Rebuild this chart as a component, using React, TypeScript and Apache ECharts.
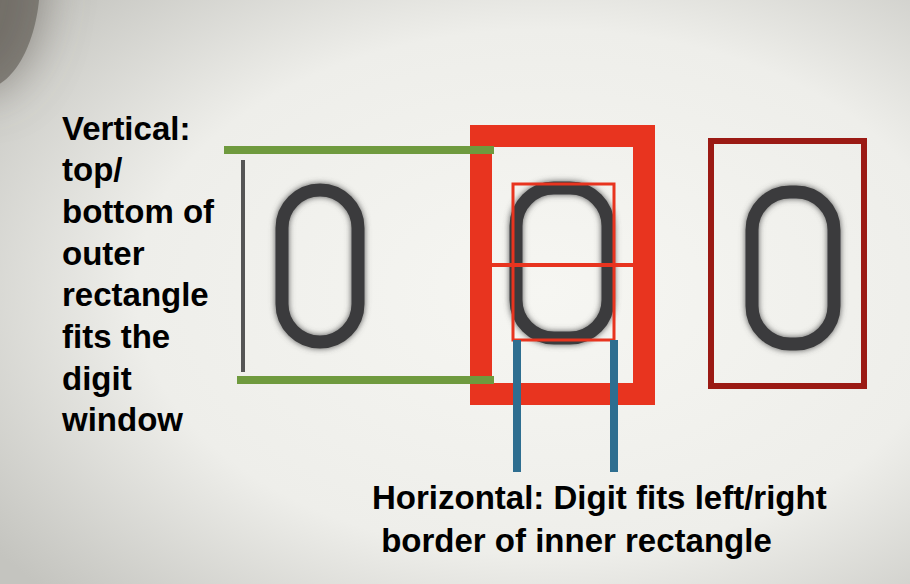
import { useEffect, useRef } from "react";
import * as echarts from "echarts";

const leftLines = ["Vertical:", "top/", "bottom of", "outer", "rectangle", "fits the", "digit", "window"];
const bottomLines = ["Horizontal: Digit fits left/right", " border of inner rectangle"];
const digitBoxes = [
  [282, 190, 76, 152],
  [516, 188, 92, 150],
  [752, 192, 82, 152],
];

export default function App() {
  const ref = useRef<HTMLDivElement>(null);

  useEffect(() => {
    if (!ref.current) return;
    const chart = echarts.init(ref.current, null, { renderer: "svg" });
    const font = 'bold 33px "Liberation Sans", Arial, sans-serif';

    const elements: any[] = [
      {
        type: "rect",
        shape: { x: 0, y: 0, width: 910, height: 584 },
        style: {
          fill: new echarts.graphic.RadialGradient(0.6, 0.5, 0.75, [
            { offset: 0, color: "#f6f6f2" },
            { offset: 0.6, color: "#eeeeea" },
            { offset: 1, color: "#c4c4bf" },
          ]),
        },
      },
      {
        type: "ellipse",
        shape: { cx: -20, cy: -20, rx: 60, ry: 110 },
        style: { fill: "#6a655e", shadowBlur: 50, shadowColor: "#6a655e", opacity: 0.7 },
      },
      // left digit window edge
      { type: "line", shape: { x1: 243, y1: 160, x2: 243, y2: 372 }, style: { stroke: "#555", lineWidth: 4 } },
      ...digitBoxes.map(([x, y, w, h]) => ({
        type: "rect",
        shape: { x, y, width: w, height: h, r: 38 },
        style: { fill: "none", stroke: "#3a3a3c", lineWidth: 13, shadowBlur: 6, shadowColor: "#555" },
      })),
      // outer red rectangle
      { type: "rect", shape: { x: 481, y: 136, width: 163, height: 258 }, style: { fill: "none", stroke: "#e8341f", lineWidth: 22 } },
      // inner rectangle
      { type: "rect", shape: { x: 513, y: 184, width: 101, height: 156 }, style: { fill: "none", stroke: "#e8341f", lineWidth: 3 } },
      { type: "line", shape: { x1: 492, y1: 265, x2: 634, y2: 265 }, style: { stroke: "#e8341f", lineWidth: 4 } },
      // right rectangle
      { type: "rect", shape: { x: 711, y: 141, width: 153, height: 245 }, style: { fill: "none", stroke: "#9b1a14", lineWidth: 6 } },
      // green
      { type: "line", shape: { x1: 224, y1: 150, x2: 494, y2: 150 }, style: { stroke: "#6f9a3e", lineWidth: 8 } },
      { type: "line", shape: { x1: 237, y1: 380, x2: 494, y2: 380 }, style: { stroke: "#6f9a3e", lineWidth: 8 } },
      // blue
      { type: "line", shape: { x1: 517, y1: 340, x2: 517, y2: 472 }, style: { stroke: "#2e6e90", lineWidth: 8 } },
      { type: "line", shape: { x1: 614, y1: 340, x2: 614, y2: 472 }, style: { stroke: "#2e6e90", lineWidth: 8 } },
      ...leftLines.map((t, i) => ({
        type: "text",
        x: 62,
        y: 128 + i * 41.7,
        style: { text: t, font, fill: "#000", verticalAlign: "middle" },
      })),
      ...bottomLines.map((t, i) => ({
        type: "text",
        x: 372,
        y: 497 + i * 43,
        style: { text: t, font, fill: "#000", verticalAlign: "middle" },
      })),
    ];

    chart.setOption({ animation: false, graphic: { elements } });
    return () => chart.dispose();
  }, []);

  return <div ref={ref} style={{ position: "absolute", left: 0, top: 0, width: 910, height: 584 }} />;
}
